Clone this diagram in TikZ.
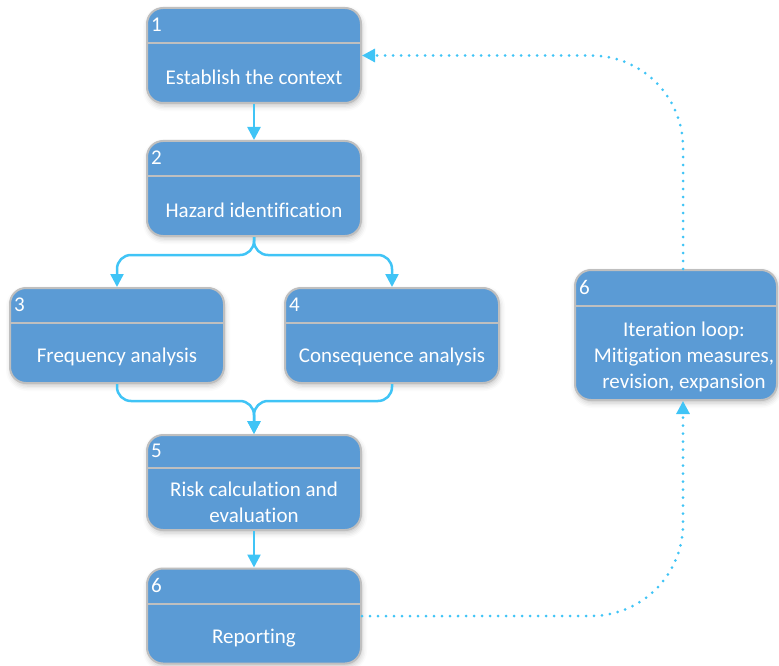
\documentclass[tikz,border=0pt]{standalone}
\usepackage{fontspec}
\setmainfont[Ligatures=NoCommon]{Carlito}
\usetikzlibrary{arrows.meta,shadows.blur,calc}
\definecolor{boxblue}{RGB}{91,155,213}
\definecolor{boxedge}{RGB}{191,191,191}
\definecolor{linkblue}{RGB}{64,196,246}
\begin{document}
\begin{tikzpicture}[x=1pt,y=-1pt,
  stage/.style={draw=boxedge, line width=2pt, fill=boxblue, rounded corners=16pt, inner sep=0pt,
    minimum width=214pt, minimum height=95pt,
    blur shadow={shadow xshift=1pt, shadow yshift=-3pt, shadow blur radius=5pt, shadow opacity=22}},
  divider/.style={draw=boxedge, line width=2pt},
  numlabel/.style={text=white, font=\fontsize{21}{25}\selectfont, anchor=west, inner sep=0pt},
  bodytext/.style={text=white, font=\fontsize{21}{26}\selectfont, align=center, inner sep=0pt},
  flowline/.style={draw=linkblue, line width=2.5pt, rounded corners=14pt, -{Triangle[length=13pt,width=13pt]}},
  dotloop/.style={draw=linkblue, line width=3pt, dash pattern=on 0pt off 8pt, line cap=round, rounded corners=92pt, -{Triangle[length=13pt,width=13pt]}}]
\useasboundingbox (0,0) rectangle (779,666);
\clip (0,0) rectangle (779,666);

% stage 1
\node[stage] (n1) at (254,55.5) {};
\draw[divider] ([yshift=-36pt]n1.north west) -- ([yshift=-36pt]n1.north east);
\node[numlabel] (n1n) at ([xshift=5pt,yshift=-18pt]n1.north west) {1};
\node[bodytext] (n1t) at ([yshift=27pt]n1.south) {Establish the context};

% stage 2
\node[stage] (n2) at (254,188.5) {};
\draw[divider] ([yshift=-36pt]n2.north west) -- ([yshift=-36pt]n2.north east);
\node[numlabel] (n2n) at ([xshift=5pt,yshift=-18pt]n2.north west) {2};
\node[bodytext] (n2t) at ([yshift=27pt]n2.south) {Hazard identification};

% stage 3
\node[stage] (n3) at (117,335.5) {};
\draw[divider] ([yshift=-36pt]n3.north west) -- ([yshift=-36pt]n3.north east);
\node[numlabel] (n3n) at ([xshift=5pt,yshift=-18pt]n3.north west) {3};
\node[bodytext] (n3t) at ([yshift=27pt]n3.south) {Frequency analysis};

% stage 4
\node[stage] (n4) at (392,335.5) {};
\draw[divider] ([yshift=-36pt]n4.north west) -- ([yshift=-36pt]n4.north east);
\node[numlabel] (n4n) at ([xshift=5pt,yshift=-18pt]n4.north west) {4};
\node[bodytext] (n4t) at ([yshift=27pt]n4.south) {Consequence analysis};

% stage 5
\node[stage] (n5) at (254,482.5) {};
\draw[divider] ([yshift=-34pt]n5.north west) -- ([yshift=-34pt]n5.north east);
\node[numlabel] (n5n) at ([xshift=5pt,yshift=-17pt]n5.north west) {5};
\node[bodytext] (n5t) at ([yshift=29pt]n5.south) {Risk calculation and\\evaluation};

% stage 6 reporting
\node[stage] (n6) at (254,616) {};
\draw[divider] ([yshift=-36pt]n6.north west) -- ([yshift=-36pt]n6.north east);
\node[numlabel] (n6n) at ([xshift=5pt,yshift=-18pt]n6.north west) {6};
\node[bodytext] (n6t) at ([yshift=26.5pt]n6.south) {Reporting};

% iteration loop
\node[stage, minimum width=202pt, minimum height=130pt] (it) at (676,335) {};
\draw[divider] ([yshift=-37pt]it.north west) -- ([yshift=-37pt]it.north east);
\node[numlabel] (itn) at ([xshift=5pt,yshift=-18pt]it.north west) {6};
\node[bodytext] (itt) at ([xshift=8pt,yshift=44pt]it.south) {Iteration loop:\\Mitigation measures,\\revision, expansion};

% connectors
\coordinate (fork) at ([yshift=-18pt]n2.south);
\coordinate (merge) at ([yshift=33pt]n5.north);
\draw[flowline] (n1.south) -- (n2.north);
\draw[flowline] (n2.south) -- (fork) -| (n3.north);
\draw[flowline] (n2.south) -- (fork) -| (n4.north);
\draw[flowline] (n3.south) |- (merge) -- (n5.north);
\draw[flowline] (n4.south) |- (merge) -- (n5.north);
\draw[flowline] (n5.south) -- (n6.north);

\coordinate (itb) at ([xshift=7pt]it.south);
\coordinate (itt0) at ([xshift=7pt]it.north);
\draw[dotloop] (n6.east) -| (itb);
\draw[dotloop] (itt0) |- (n1.east);
\end{tikzpicture}
\end{document}
